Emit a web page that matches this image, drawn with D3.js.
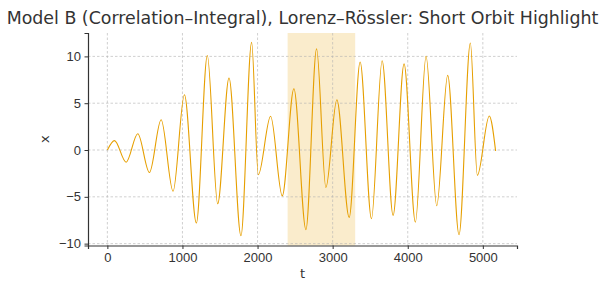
<!DOCTYPE html>
<html>
<head>
<meta charset="utf-8">
<script src="https://cdn.jsdelivr.net/npm/d3@7"></script>
<style>
  body { margin: 0; background: #fff; }
  svg { display: block; font-family: "DejaVu Sans", sans-serif; }
  .grid line { stroke: #b0b0b0; stroke-dasharray: 2.5,2; stroke-width: 0.6; }
  .axis text { font-size: 13px; fill: #333; }
</style>
</head>
<body>
<div id="chart"></div>
<script>
// extrema of the orbit (t, x)
const tValues = [0, 95, 250, 405, 560, 716, 875, 1026, 1185, 1331, 1469, 1620, 1779, 1921,
  2010, 2174, 2329, 2484, 2644, 2786, 2910, 3056, 3220, 3366, 3517, 3659, 3805, 3951,
  4102, 4244, 4386, 4532, 4683, 4834, 4927, 5086, 5170];
const xValues = [0, 1.0, -1.3, 1.74, -2.4, 3.24, -4.4, 5.9, -7.8, 10.1, -5.74, 7.7, -9.16, 11.5,
  -2.64, 3.6, -4.9, 6.55, -8.5, 10.8, -4.0, 5.37, -7.2, 9.4, -7.34, 9.54, -6.98, 9.2,
  -7.7, 10.0, -5.95, 7.97, -9.05, 11.43, -2.7, 3.63, -0.1];
const highlight = [2400, 3300];
const xTicks = [0, 1000, 2000, 3000, 4000, 5000];
const yTicks = [-10, -5, 0, 5, 10];
const titleText = "Model B (Correlation–Integral), Lorenz–Rössler: Short Orbit Highlight";

const data = tValues.map((t, i) => ({ t: t, x: xValues[i] }));

const W = 604, H = 301;
const margin = { top: 33, right: 87, bottom: 55.5, left: 88 };
const width = W - margin.left - margin.right,
  height = H - margin.top - margin.bottom;

const svg = d3.select("#chart").append("svg")
  .attr("width", W)
  .attr("height", H);

const g = svg.append("g")
  .attr("transform", "translate(" + margin.left + "," + margin.top + ")");

const x = d3.scaleLinear().domain([-258, 5455]).range([0, width]);
const y = d3.scaleLinear().domain([-10.2, 12.5]).range([height, 0]);

// highlighted window
g.append("rect")
  .attr("x", x(highlight[0]))
  .attr("y", 0)
  .attr("width", x(highlight[1]) - x(highlight[0]))
  .attr("height", height)
  .attr("fill", "#e69f00")
  .attr("fill-opacity", 0.2);

// grid
const grid = g.append("g").attr("class", "grid");
grid.selectAll(".gx").data(xTicks).enter().append("line")
  .attr("x1", d => x(d)).attr("x2", d => x(d))
  .attr("y1", 0).attr("y2", height);
grid.selectAll(".gy").data(yTicks).enter().append("line")
  .attr("x1", 0).attr("x2", width)
  .attr("y1", d => y(d)).attr("y2", d => y(d));

// the orbit
const line = d3.line()
  .x(d => x(d.t))
  .y(d => y(d.x))
  .curve(d3.curveMonotoneX);

g.append("path")
  .datum(data)
  .attr("fill", "none")
  .attr("stroke", "#e69f00")
  .attr("stroke-width", 1.1)
  .attr("d", line);

// axes
const xAxis = g.append("g")
  .attr("class", "axis")
  .attr("transform", "translate(0," + height + ")")
  .call(d3.axisBottom(x).tickValues(xTicks).tickSize(3.5).tickPadding(4)
    .tickFormat(d3.format("d")));
const yAxis = g.append("g")
  .attr("class", "axis")
  .call(d3.axisLeft(y).tickValues(yTicks).tickSize(3.5).tickPadding(3.5)
    .tickFormat(d => d < 0 ? "−" + Math.abs(d) : d));

[xAxis, yAxis].forEach(a => {
  a.select(".domain").attr("stroke", "#333").attr("stroke-width", 1.2);
  a.selectAll(".tick line").attr("stroke", "#333");
});

svg.append("text")
  .attr("x", margin.left + width / 2)
  .attr("y", 278)
  .attr("text-anchor", "middle")
  .attr("font-size", 13)
  .attr("fill", "#333")
  .text("t");

svg.append("text")
  .attr("transform", "translate(49," + (margin.top + height / 2) + ") rotate(-90)")
  .attr("text-anchor", "middle")
  .attr("font-size", 13)
  .attr("fill", "#333")
  .text("x");

svg.append("text")
  .attr("x", margin.left + width / 2)
  .attr("y", 24)
  .attr("text-anchor", "middle")
  .attr("font-size", 17.4)
  .attr("fill", "#333")
  .text(titleText);
</script>
</body>
</html>
